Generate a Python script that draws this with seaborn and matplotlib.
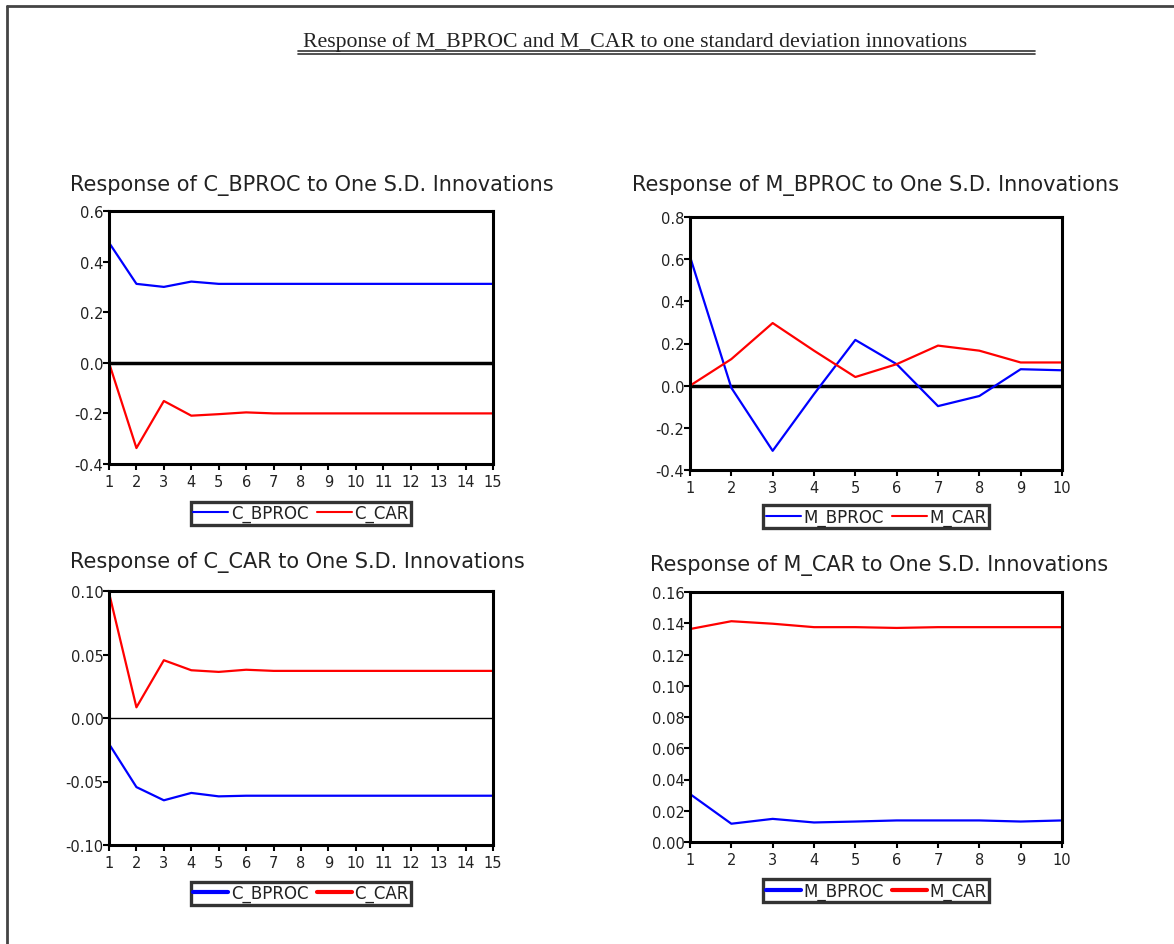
import pandas as pd
import matplotlib
matplotlib.use("Agg")
import matplotlib.pyplot as plt
from matplotlib.lines import Line2D
import seaborn as sns

# impulse responses
periods_c = list(range(1, 16))
periods_m = list(range(1, 11))

c_bproc_to_bproc = [0.475, 0.312, 0.300, 0.321, 0.312, 0.312, 0.312, 0.312, 0.312, 0.312, 0.312, 0.312, 0.312, 0.312, 0.312]
c_bproc_to_car = [0.0, -0.337, -0.151, -0.209, -0.203, -0.196, -0.200, -0.200, -0.200, -0.200, -0.200, -0.200, -0.200, -0.200, -0.200]

m_bproc_to_bproc = [0.612, -0.010, -0.309, -0.040, 0.217, 0.102, -0.097, -0.049, 0.078, 0.073]
m_bproc_to_car = [0.0, 0.126, 0.297, 0.166, 0.041, 0.102, 0.190, 0.166, 0.110, 0.110]

c_car_to_bproc = [-0.0204, -0.0544, -0.0648, -0.0590, -0.0617, -0.0612, -0.0612, -0.0612, -0.0612, -0.0612, -0.0612, -0.0612, -0.0612, -0.0612, -0.0612]
c_car_to_car = [0.0986, 0.0084, 0.0455, 0.0376, 0.0363, 0.0380, 0.0371, 0.0371, 0.0371, 0.0371, 0.0371, 0.0371, 0.0371, 0.0371, 0.0371]

m_car_to_bproc = [0.0307, 0.0117, 0.0148, 0.0125, 0.0131, 0.0138, 0.0138, 0.0138, 0.0131, 0.0138]
m_car_to_car = [0.1363, 0.1413, 0.1397, 0.1375, 0.1375, 0.1370, 0.1375, 0.1375, 0.1375, 0.1375]

sns.set_theme(style="white")
plt.rcParams["font.family"] = ["DejaVu Sans"]

W, H = 1174, 945
fig = plt.figure(figsize=(W / 100, H / 100), dpi=100)


def box(left, top, right, bottom):
    return [left / W, 1 - bottom / H, (right - left) / W, (bottom - top) / H]


def panel(rect, x, s1, s2, names, title, title_xy, title_ha, yticks, yfmt,
          zero_lw, leg_y, leg_lw):
    ax = fig.add_axes(rect)
    df = pd.DataFrame({"period": x * 2,
                       "value": s1 + s2,
                       "series": [names[0]] * len(x) + [names[1]] * len(x)})
    if zero_lw:
        ax.axhline(0, color="black", lw=zero_lw, zorder=1)
    sns.lineplot(data=df, x="period", y="value", hue="series",
                 palette=["#0000ff", "#ff0000"], lw=1.6, ax=ax)
    ax.set_xlim(x[0], x[-1])
    ax.set_xticks(x)
    ax.set_ylim(yticks[0], yticks[-1])
    ax.set_yticks(yticks)
    ax.set_yticklabels([yfmt.format(v) for v in yticks])
    ax.set_xlabel("")
    ax.set_ylabel("")
    for sp in ax.spines.values():
        sp.set_visible(True)
        sp.set_color("black")
        sp.set_linewidth(2.2)
    ax.tick_params(axis="both", direction="out", length=4, width=1.5,
                   color="black", labelsize=10.5, labelcolor="#222222",
                   left=True, bottom=True)
    ax.tick_params(axis="y", pad=0)
    ax.tick_params(axis="x", pad=3)
    fig.text(title_xy[0] / W, 1 - title_xy[1] / H, title, ha=title_ha,
             va="center", fontsize=15, color="#222222")
    sns.move_legend(ax, "center", bbox_to_anchor=(0.5, leg_y), ncol=2,
                    title=None, frameon=True, fontsize=12, handlelength=2.1,
                    handletextpad=0.15, columnspacing=0.5, borderpad=0.15,
                    fancybox=False)
    leg = ax.get_legend()
    leg.get_frame().set_edgecolor("black")
    leg.get_frame().set_linewidth(2.4)
    for t in leg.get_texts():
        t.set_color("#222222")
    for h in leg.get_lines():
        h.set_linewidth(leg_lw)
    return ax


panel(box(109, 212, 493, 465), periods_c, c_bproc_to_bproc, c_bproc_to_car,
      ["C_BPROC", "C_CAR"], "Response of C_BPROC to One S.D. Innovations",
      (70, 185), "left",
      [-0.4, -0.2, 0.0, 0.2, 0.4, 0.6], "{:.1f}", 2.5, -0.195, 1.5)

panel(box(690, 218, 1062, 471), periods_m, m_bproc_to_bproc, m_bproc_to_car,
      ["M_BPROC", "M_CAR"], "Response of M_BPROC to One S.D. Innovations",
      (876, 185), "center",
      [-0.4, -0.2, 0.0, 0.2, 0.4, 0.6, 0.8], "{:.1f}", 2.5, -0.185, 1.5)

panel(box(109, 592, 493, 846), periods_c, c_car_to_bproc, c_car_to_car,
      ["C_BPROC", "C_CAR"], "Response of C_CAR to One S.D. Innovations",
      (70, 563), "left",
      [-0.10, -0.05, 0.00, 0.05, 0.10], "{:.2f}", 1.0, -0.19, 3.0)

panel(box(690, 593, 1062, 843), periods_m, m_car_to_bproc, m_car_to_car,
      ["M_BPROC", "M_CAR"], "Response of M_CAR to One S.D. Innovations",
      (879, 565), "center",
      [0.00, 0.02, 0.04, 0.06, 0.08, 0.10, 0.12, 0.14, 0.16], "{:.2f}", 0, -0.195, 3.0)

# page title with double underline
fig.text(303 / W, 1 - 42 / H,
         "Response of M_BPROC and M_CAR to one standard deviation innovations",
         ha="left", va="center", fontsize=15.7, color="#222222",
         family=["Liberation Serif", "DejaVu Serif"])
for yy in (52, 55):
    fig.add_artist(Line2D([298 / W, 1035 / W], [1 - yy / H, 1 - yy / H],
                          color="#333333", lw=1.2))

# page frame
fig.add_artist(Line2D([7 / W, 1.0], [1 - 7 / H, 1 - 7 / H], color="#444444", lw=2))
fig.add_artist(Line2D([7 / W, 7 / W], [1 - 7 / H, 0.0], color="#444444", lw=2))

fig.savefig("out.png", dpi=100)
